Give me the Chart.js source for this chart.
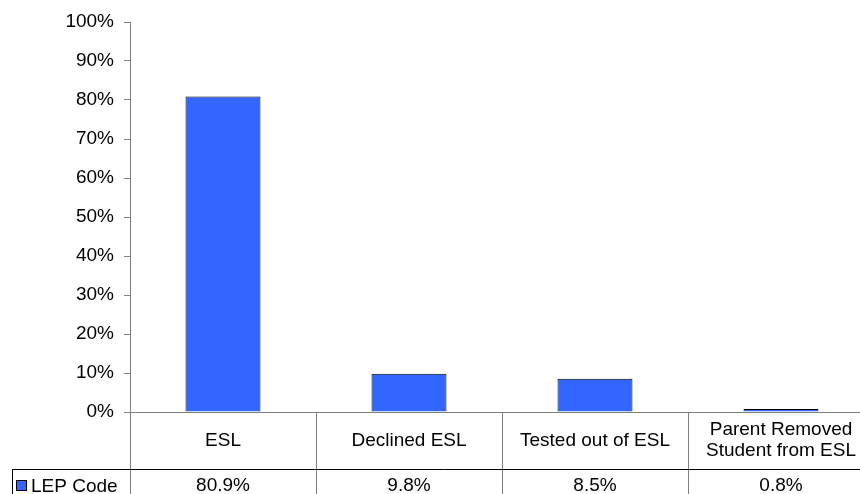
<!DOCTYPE html>
<html>
<head>
<meta charset="utf-8">
<script src="https://cdn.jsdelivr.net/npm/chart.js@4.4.1/dist/chart.umd.min.js"></script>
<style>
  html, body { margin: 0; padding: 0; background: #fff; overflow: hidden; }
  #wrap { width: 880px; height: 494px; }
</style>
</head>
<body>
<div id="wrap"><canvas id="lepChart" width="880" height="494"></canvas></div>
<script>
const categories = ['ESL', 'Declined ESL', 'Tested out of ESL', ['Parent Removed', 'Student from ESL']];
const lepValues = [0.809, 0.098, 0.085, 0.008];
const valueLabels = ['80.9%', '9.8%', '8.5%', '0.8%'];
const seriesName = 'LEP Code';

const barColor = '#3366FF';
const lineColor = '#7f7f7f';
const fontFamily = 'Liberation Sans, Arial, sans-serif';

// draws the data table under the bars, using the x scale for positions
const dataTable = {
    id: 'dataTable',
    afterDraw(chart) {
        const ctx = chart.ctx;
        const area = chart.chartArea;
        const xs = chart.scales.x;
        const n = categories.length;
        const step = (area.right - area.left) / n;
        const row1Bottom = area.bottom + 57;
        const bottom = chart.height;

        ctx.save();
        ctx.lineWidth = 1;
        ctx.strokeStyle = lineColor;
        ctx.beginPath();
        // axis line at 0%
        ctx.moveTo(area.left, area.bottom + 0.5);
        ctx.lineTo(area.right, area.bottom + 0.5);
        // column separators
        for (let i = 0; i <= n; i++) {
            const x = Math.round(area.left + i * step) + 0.5;
            ctx.moveTo(x, area.bottom);
            ctx.lineTo(x, bottom);
        }
        ctx.stroke();

        ctx.strokeStyle = '#000';
        ctx.beginPath();
        ctx.moveTo(12.5, row1Bottom + 0.5);
        ctx.lineTo(area.right, row1Bottom + 0.5);
        ctx.moveTo(12.5, row1Bottom);
        ctx.lineTo(12.5, bottom);
        ctx.stroke();

        ctx.fillStyle = '#000';
        ctx.font = '19px ' + fontFamily;
        ctx.textAlign = 'center';
        ctx.textBaseline = 'middle';
        categories.forEach((c, i) => {
            const x = xs.getPixelForValue(i);
            if (Array.isArray(c)) {
                ctx.fillText(c[0], x, area.bottom + 18);
                ctx.fillText(c[1], x, area.bottom + 39);
            } else {
                ctx.fillText(c, x, area.bottom + 29);
            }
            ctx.fillText(valueLabels[i], x, row1Bottom + 17);
        });

        // legend key
        ctx.fillStyle = barColor;
        ctx.fillRect(16, row1Bottom + 11, 11, 11);
        ctx.strokeStyle = '#000';
        ctx.strokeRect(16.5, row1Bottom + 11.5, 10, 10);
        ctx.fillStyle = '#000';
        ctx.textAlign = 'left';
        ctx.fillText(seriesName, 31, row1Bottom + 18);
        ctx.restore();
    }
};

const ctx = document.getElementById('lepChart').getContext('2d');
const lepChart = new Chart(ctx, {
    type: 'bar',
    data: {
        labels: categories,
        datasets: [{
            label: seriesName,
            data: lepValues,
            backgroundColor: barColor,
            borderColor: '#000',
            borderWidth: 1,
            barPercentage: 0.403,
            categoryPercentage: 1.0
        }]
    },
    options: {
        responsive: false,
        animation: false,
        layout: { padding: { top: 22, bottom: 82, left: 0, right: 6 } },
        plugins: {
            legend: { display: false },
            tooltip: { enabled: false }
        },
        scales: {
            x: { display: false },
            y: {
                min: 0,
                max: 1,
                afterFit: s => { s.width = 130; },
                border: { color: lineColor, width: 1 },
                grid: { drawOnChartArea: false, drawTicks: true, tickLength: 6, color: lineColor },
                ticks: {
                    stepSize: 0.1,
                    padding: 10,
                    color: '#000',
                    font: { family: fontFamily, size: 19 },
                    callback: v => Math.round(v * 100) + '%'
                }
            }
        }
    },
    plugins: [dataTable]
});
</script>
</body>
</html>
